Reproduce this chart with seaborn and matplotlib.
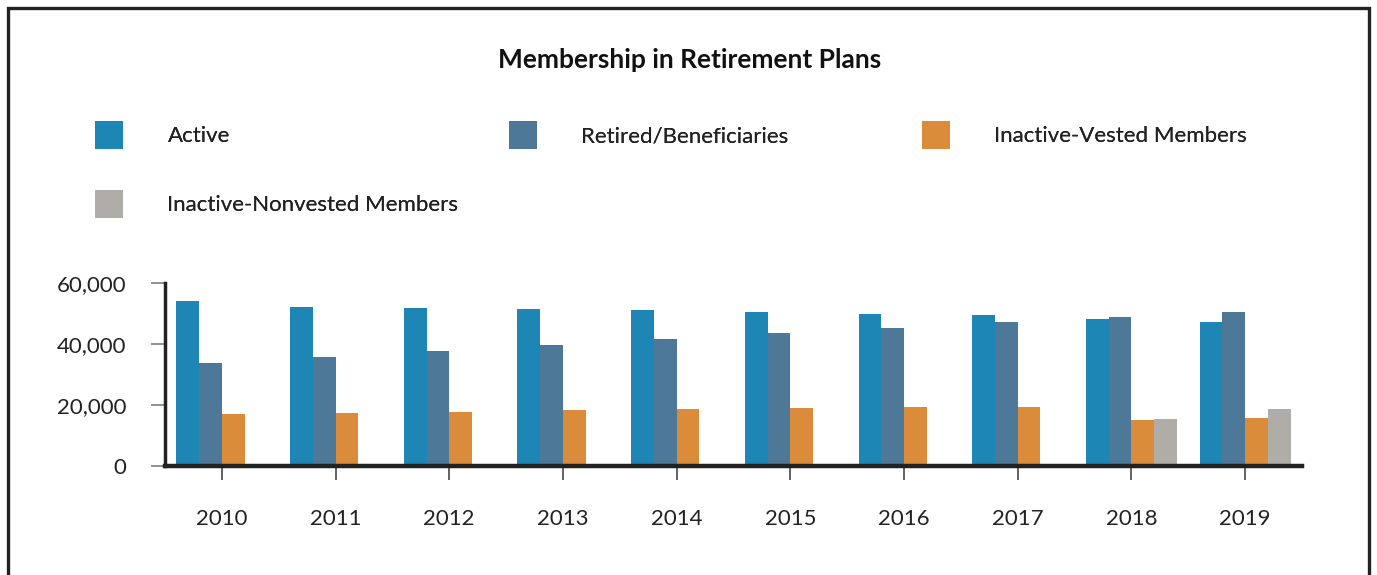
import matplotlib
matplotlib.use("Agg")
import matplotlib.pyplot as plt
from matplotlib.patches import Patch, Rectangle
import seaborn as sns
import pandas as pd
import numpy as np

years = ["2010", "2011", "2012", "2013", "2014", "2015", "2016", "2017", "2018", "2019"]
active = [54100, 52100, 51800, 51500, 51100, 50500, 49800, 49500, 48200, 47200]
retired = [33800, 35700, 37700, 39700, 41600, 43600, 45200, 47200, 48900, 50500]
inactive_vested = [17000, 17400, 17700, 18400, 18700, 19000, 19300, 19300, 15100, 15700]
inactive_nonvested = [np.nan] * 8 + [15400, 18700]

series = ["Active", "Retired/Beneficiaries", "Inactive-Vested Members", "Inactive-Nonvested Members"]
colors = ["#1d86b4", "#4e7898", "#da8c3a", "#b0aca8"]

df = pd.DataFrame({
    "year": years * 4,
    "group": [s for s in series for _ in years],
    "members": active + retired + inactive_vested + inactive_nonvested,
})

sns.set_style("white")
plt.rcParams["font.family"] = ["Lato", "DejaVu Sans"]

fig = plt.figure(figsize=(13.77, 5.75), dpi=100)
ax = fig.add_axes([165 / 1377, 1 - 466 / 575, (1302 - 165) / 1377, (466 - 283) / 575])

sns.barplot(data=df, x="year", y="members", hue="group", hue_order=series,
            palette=colors, width=0.8, saturation=1, legend=False,
            linewidth=0, edgecolor="none", ax=ax)

ax.set_ylim(0, 60000)
ax.set_xlim(-0.5, 9.5)
ax.set_yticks([0, 20000, 40000, 60000])
ax.yaxis.set_major_formatter(matplotlib.ticker.FuncFormatter(lambda v, p: f"{int(v):,}"))
ax.set_xlabel("")
ax.set_ylabel("")

for side in ["top", "right"]:
    ax.spines[side].set_visible(False)
ax.spines["left"].set_color("#222222")
ax.spines["left"].set_linewidth(2.5)
ax.spines["bottom"].set_color("#222222")
ax.spines["bottom"].set_linewidth(3.2)

ax.tick_params(axis="y", direction="out", length=10, width=1.3, color="#888888",
               labelsize=16, labelcolor="#222222", pad=18, left=True)
ax.tick_params(axis="x", direction="out", length=10, width=1.3, color="#555555",
               labelsize=16, labelcolor="#222222", pad=21, bottom=True)

fig.text(690 / 1377, 1 - 60 / 575, "Membership in Retirement Plans", ha="center", va="center",
         fontsize=19, fontweight="bold", color="#111111")

# legend laid out as three fixed-width columns
handles = [Patch(facecolor=c, edgecolor="none") for c in colors]
legend_kw = dict(frameon=False, fontsize=16, handlelength=1.26, handleheight=1.55,
                 handletextpad=2.0, labelspacing=1.85, borderpad=0, borderaxespad=0,
                 loc="upper left", labelcolor="#222222")
columns = [([0, 3], 95), ([1], 509), ([2], 922)]
for idx, x0 in columns:
    leg = fig.legend([handles[i] for i in idx], [series[i] for i in idx],
                     bbox_to_anchor=(x0 / 1377, 1 - 121 / 575), **legend_kw)
    fig.add_artist(leg)

# outer frame, open at the bottom
frame = Rectangle((8 / 1377, -0.1), (1369 - 8) / 1377, 1.1 - 8 / 575,
                  transform=fig.transFigure, fill=False, edgecolor="#222222",
                  linewidth=2.4, clip_on=False)
fig.patches.append(frame)

fig.savefig("out.png", dpi=100)
